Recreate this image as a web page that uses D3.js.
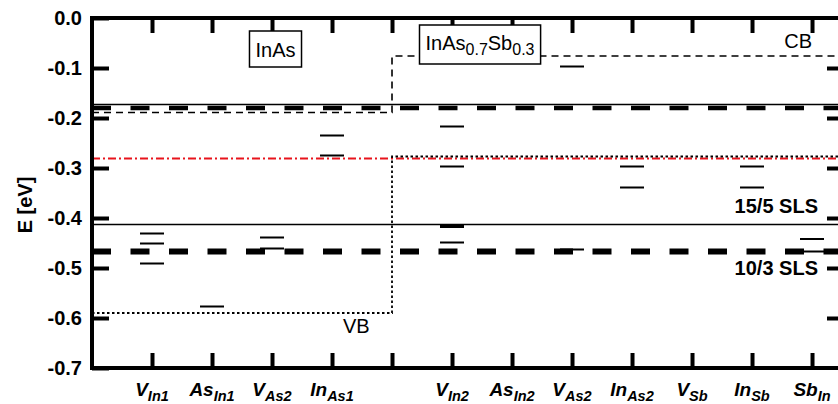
<!DOCTYPE html>
<html>
<head>
<meta charset="utf-8">
<script src="https://cdn.jsdelivr.net/npm/d3@7"></script>
<style>
  body { margin: 0; background: #fff; }
  text { font-family: "Liberation Sans", Arial, sans-serif; }
</style>
</head>
<body>
<div id="chart"></div>
<script>
// defect names (base + subscript), the 5th slot is the empty gap between the two materials
const defectBase = ["V", "As", "V", "In", "", "V", "As", "V", "In", "V", "In", "Sb"];
const defectSub = ["In1", "In1", "As2", "As1", "", "In2", "In2", "As2", "As2", "Sb", "Sb", "In"];

// defect levels in eV, one list per category
const defectLevels = [
    [-0.431, -0.451, -0.491],
    [-0.577],
    [-0.439, -0.461],
    [-0.235, -0.275],
    [],
    [-0.217, -0.297, -0.414, -0.418, -0.449],
    [],
    [-0.097, -0.463],
    [-0.297, -0.339],
    [],
    [-0.297, -0.339],
    [-0.442, -0.467]
];

// band edges: [InAs, InAs0.7Sb0.3]
const cbEdge = [-0.189, -0.076];
const vbEdge = [-0.590, -0.277];

// superlattice levels
const sls155 = [-0.173, -0.413];   // thin solid lines
const sls103 = [-0.180, -0.467];   // thick dashed lines
const fermiLevel = -0.281;         // red dash-dot

const yTicks = [0.0, -0.1, -0.2, -0.3, -0.4, -0.5, -0.6, -0.7];

const W = 838, H = 404;
const margin = {left: 92, top: 18, bottom: 368, right: 844};

const svg = d3.select("#chart").append("svg")
    .attr("width", W)
    .attr("height", H);

const x = d3.scaleLinear().domain([-1, 11.533]).range([margin.left, margin.right]);
const y = d3.scaleLinear().domain([-0.7, 0]).range([margin.bottom, margin.top]);

const gap = 4; // index of the material boundary

// horizontal SLS lines
svg.selectAll(".sls155")
    .data(sls155)
    .enter().append("line")
    .attr("x1", margin.left).attr("x2", margin.right)
    .attr("y1", d => y(d)).attr("y2", d => y(d))
    .attr("stroke", "#000").attr("stroke-width", 1.6);

svg.selectAll(".sls103")
    .data(sls103)
    .enter().append("line")
    .attr("x1", margin.left).attr("x2", margin.right)
    .attr("y1", d => y(d)).attr("y2", d => y(d))
    .attr("stroke", "#000")
    .attr("stroke-width", (d, i) => i == 0 ? 4.5 : 6)
    .attr("stroke-dasharray", "19,19.5");

// fermi / reference level
svg.append("line")
    .attr("x1", margin.left).attr("x2", margin.right)
    .attr("y1", y(fermiLevel)).attr("y2", y(fermiLevel))
    .attr("stroke", "#e8141c").attr("stroke-width", 2)
    .attr("stroke-dasharray", "8,3,2,3");

// band edges (step at the material boundary)
const step = v => [[margin.left, y(v[0])], [x(gap), y(v[0])], [x(gap), y(v[1])], [margin.right, y(v[1])]];

svg.append("path")
    .attr("d", d3.line()(step(cbEdge)))
    .attr("fill", "none").attr("stroke", "#000")
    .attr("stroke-width", 1.6).attr("stroke-dasharray", "7,5");

svg.append("path")
    .attr("d", d3.line()(step(vbEdge)))
    .attr("fill", "none").attr("stroke", "#000")
    .attr("stroke-width", 1.8).attr("stroke-dasharray", "2.5,2.5");

// defect levels
const flat = [];
defectLevels.forEach((lv, i) => lv.forEach(v => flat.push({i: i, v: v})));

svg.selectAll(".level")
    .data(flat)
    .enter().append("line")
    .attr("class", "level")
    .attr("x1", d => x(d.i) - 12).attr("x2", d => x(d.i) + 12)
    .attr("y1", d => y(d.v)).attr("y2", d => y(d.v))
    .attr("stroke", "#000").attr("stroke-width", 2);

// frame
svg.append("rect")
    .attr("x", margin.left).attr("y", margin.top)
    .attr("width", margin.right - margin.left).attr("height", margin.bottom - margin.top)
    .attr("fill", "none").attr("stroke", "#000").attr("stroke-width", 4);

// y axis
const yAxis = d3.axisLeft(y)
    .tickValues(yTicks)
    .tickSizeInner(-17).tickSizeOuter(0).tickPadding(10)
    .tickFormat(d => d.toFixed(1));

const yg = svg.append("g")
    .attr("transform", "translate(" + margin.left + ",0)")
    .call(yAxis);
yg.select(".domain").remove();
yg.selectAll("line").attr("stroke-width", 4);
yg.selectAll("text")
    .attr("font-size", 20).attr("font-weight", "bold")
    .attr("font-family", "Liberation Sans, Arial, sans-serif")
    .attr("fill", "#000");

// right side ticks
const yr = svg.append("g")
    .attr("transform", "translate(" + margin.right + ",0)")
    .call(d3.axisRight(y).tickValues(yTicks.slice(1, -1)).tickSizeInner(-17).tickSizeOuter(0).tickFormat(""));
yr.select(".domain").remove();
yr.selectAll("line").attr("stroke-width", 4);

// x ticks, top and bottom
const cats = d3.range(defectBase.length);
const xb = svg.append("g")
    .attr("transform", "translate(0," + margin.bottom + ")")
    .call(d3.axisBottom(x).tickValues(cats).tickSizeInner(-15).tickSizeOuter(0).tickFormat(""));
xb.select(".domain").remove();
xb.selectAll("line").attr("stroke-width", 4);

const xt = svg.append("g")
    .attr("transform", "translate(0," + margin.top + ")")
    .call(d3.axisTop(x).tickValues(cats).tickSizeInner(-15).tickSizeOuter(0).tickFormat(""));
xt.select(".domain").remove();
xt.selectAll("line").attr("stroke-width", 4);

// x labels with subscripts
const xl = svg.selectAll(".xlab")
    .data(cats.filter(i => defectBase[i] != ""))
    .enter().append("text")
    .attr("class", "xlab")
    .attr("x", i => x(i))
    .attr("y", 396)
    .attr("text-anchor", "middle")
    .attr("font-weight", "bold").attr("font-style", "italic")
    .attr("font-size", 19);
xl.append("tspan").text(i => defectBase[i]);
xl.append("tspan").attr("font-size", 14.5).attr("dy", 5).text(i => defectSub[i]);

// y label
svg.append("text")
    .attr("transform", "translate(32,205) rotate(-90)")
    .attr("text-anchor", "middle")
    .attr("font-weight", "bold").attr("font-size", 20)
    .text("E [eV]");

// material boxes
function boxLabel(cx, baseline, parts, pad) {
    let g = svg.append("g");
    let rect = g.append("rect").attr("fill", "#fff").attr("stroke", "#000").attr("stroke-width", 1.5);
    let t = g.append("text")
        .attr("x", cx).attr("y", baseline)
        .attr("text-anchor", "middle").attr("font-size", 20);
    parts.forEach(p => {
        t.append("tspan").attr("font-size", p.sub ? 16 : 20).attr("dy", p.dy || 0).text(p.t);
    });
    let b = t.node().getBBox();
    rect.attr("x", b.x - pad[0]).attr("y", baseline - pad[1])
        .attr("width", b.width + 2 * pad[0]).attr("height", pad[1] + pad[2]);
}
boxLabel(275.5, 57, [{t: "InAs"}], [6, 26, 10]);
boxLabel(480, 50, [{t: "InAs"}, {t: "0.7", sub: true, dy: 5}, {t: "Sb", dy: -5}, {t: "0.3", sub: true, dy: 5}], [6, 25, 14]);

// band and SLS annotations
svg.append("text").attr("x", 812).attr("y", 48).attr("text-anchor", "end")
    .attr("font-size", 20).text("CB");
svg.append("text").attr("x", 343).attr("y", 333)
    .attr("font-size", 20).text("VB");
svg.append("text").attr("x", 818).attr("y", 213).attr("text-anchor", "end")
    .attr("font-size", 20).attr("font-weight", "bold").text("15/5 SLS");
svg.append("text").attr("x", 818).attr("y", 275).attr("text-anchor", "end")
    .attr("font-size", 20).attr("font-weight", "bold").text("10/3 SLS");
</script>
</body>
</html>
